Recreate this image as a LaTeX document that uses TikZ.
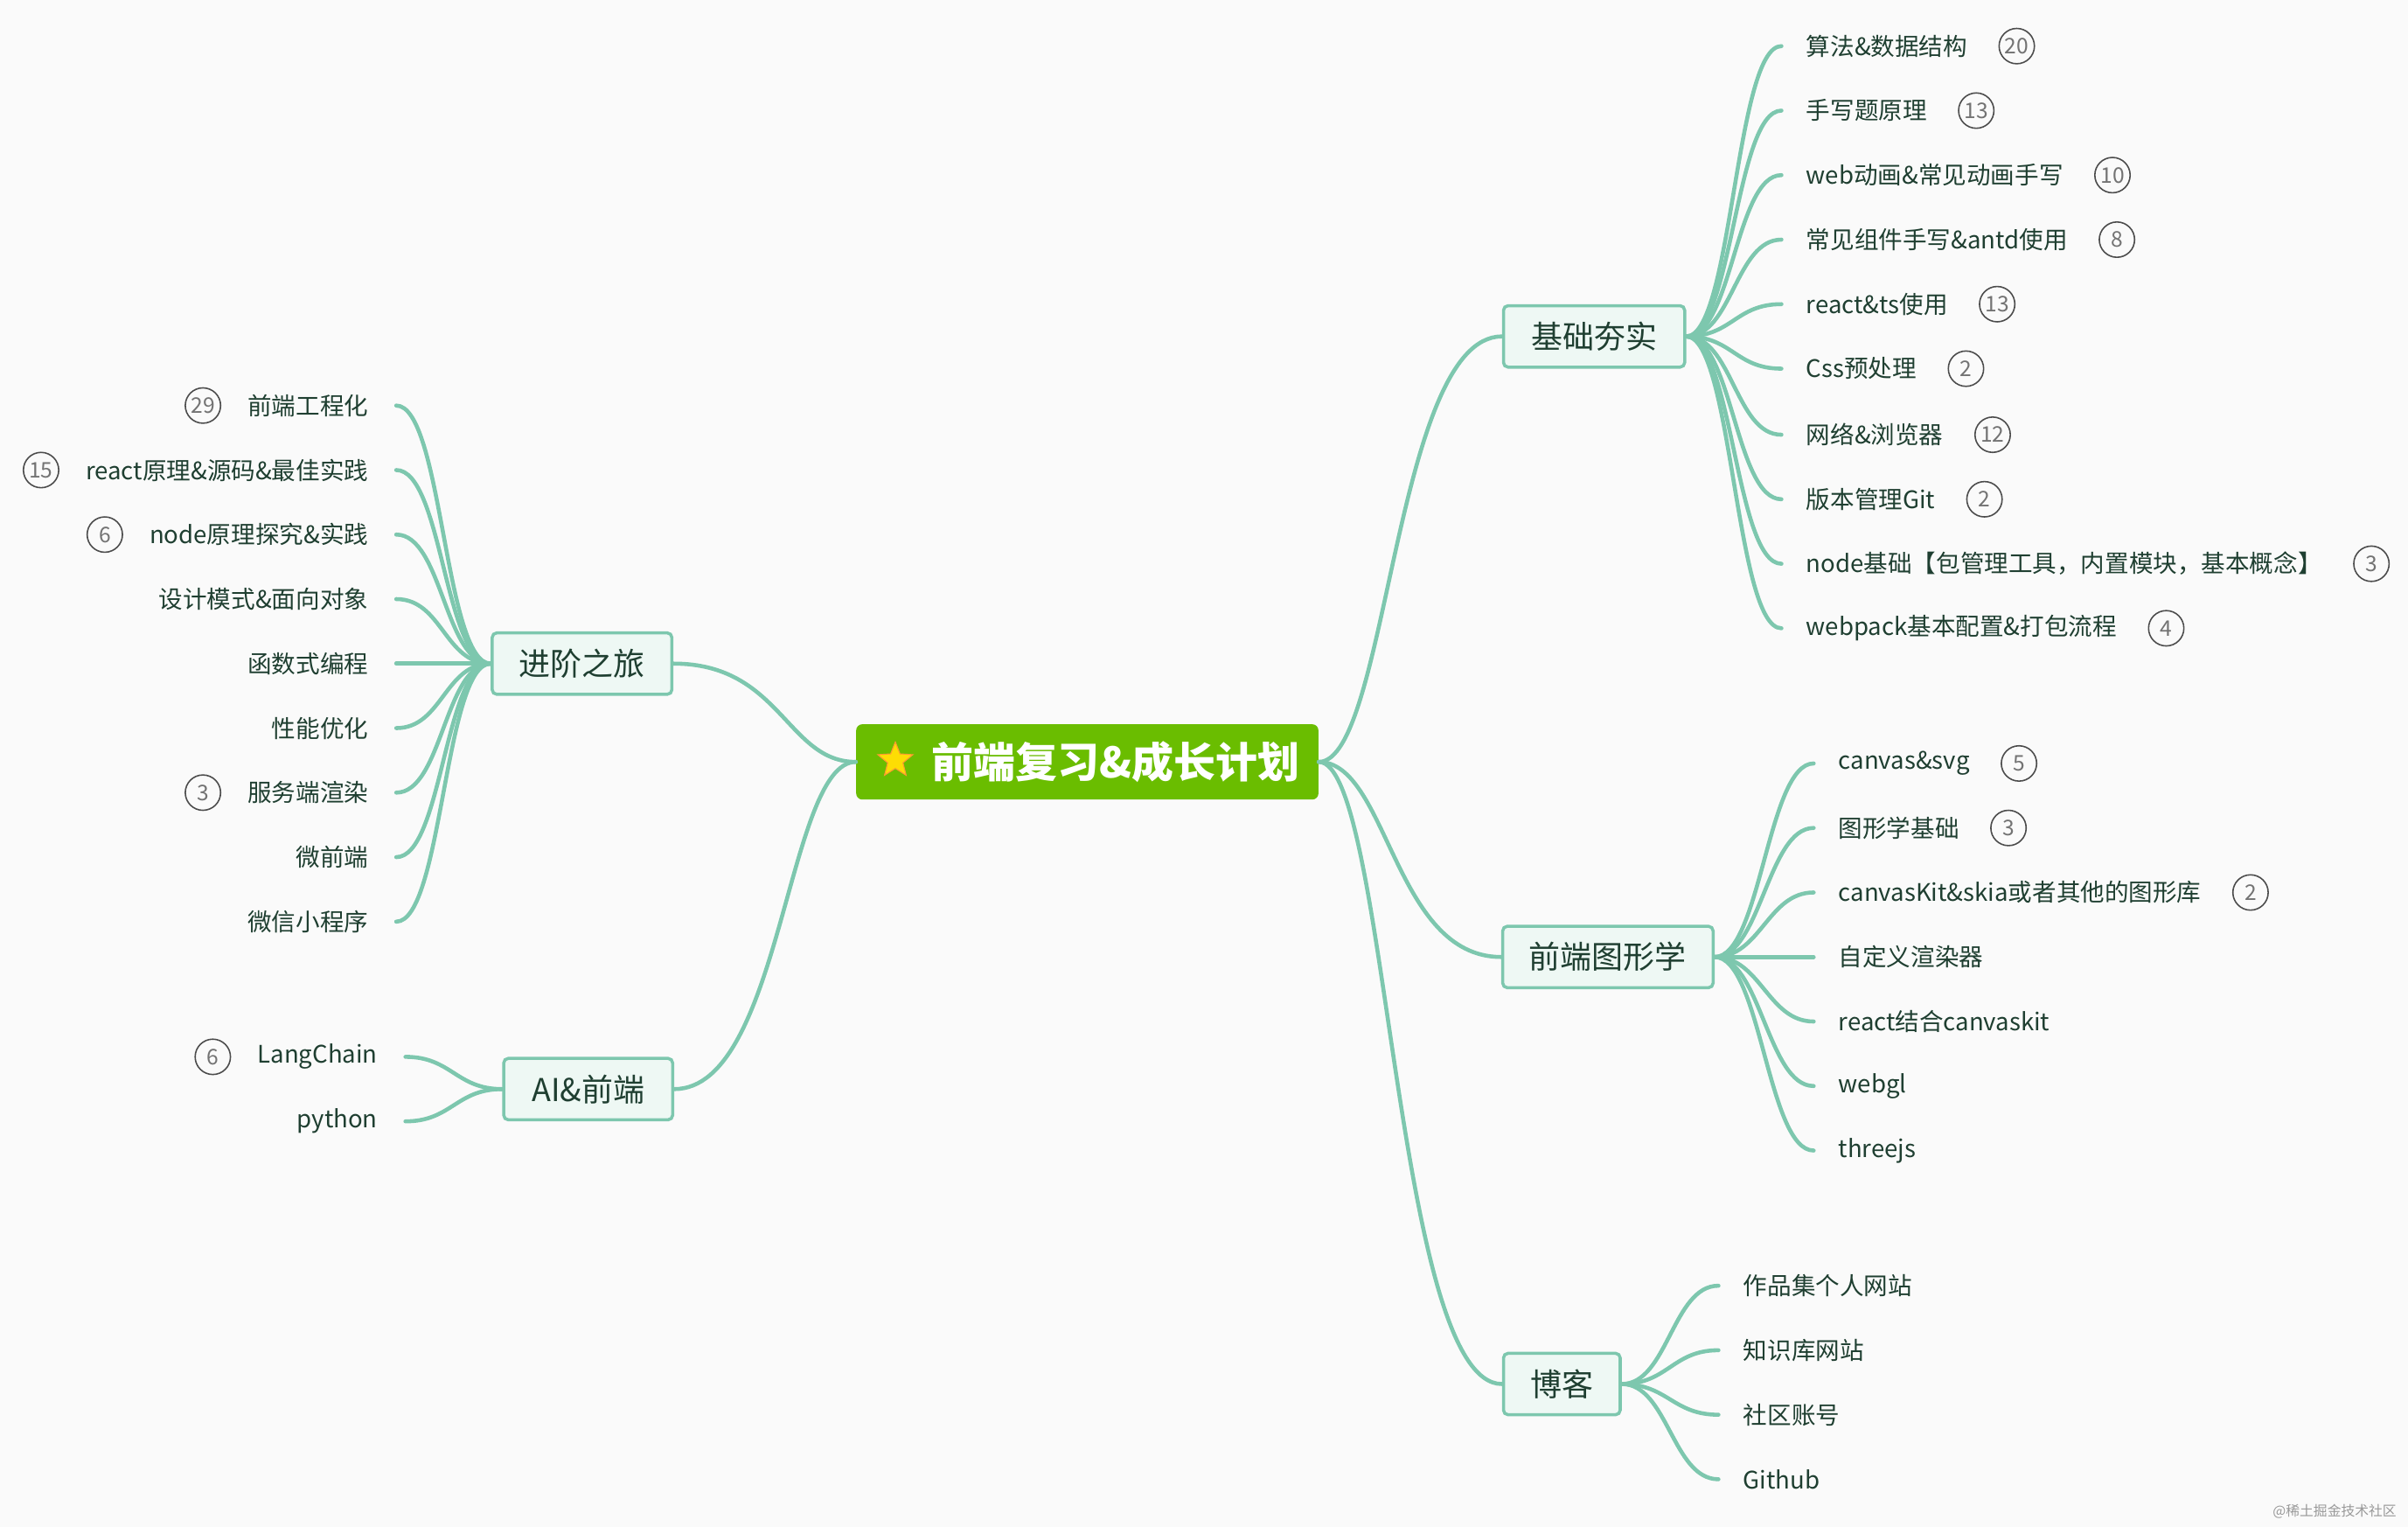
\documentclass[tikz,border=0pt]{standalone}
\usepackage{fontspec}
\setmainfont{Noto Sans CJK SC}
\usetikzlibrary{shapes.geometric}
\definecolor{ln}{HTML}{7DC7AE}
\definecolor{bg}{HTML}{FAFAFA}
\definecolor{mfill}{HTML}{EEF8F4}
\definecolor{txt}{HTML}{1F3F31}
\definecolor{rootg}{HTML}{6ABD00}
\tikzset{
 br/.style={draw=ln,line width=2.6pt,line cap=round},
 mainbox/.style={draw=ln,line width=2pt,fill=mfill,rounded corners=3pt,text=txt,font=\fontsize{20.5}{24}\selectfont,minimum height=40pt,inner xsep=8pt},
 leaf/.style={text=txt,font=\fontsize{15.7}{18}\selectfont,inner sep=0pt},
 badge/.style={circle,draw=black!70,line width=0.9pt,minimum size=23pt,inner sep=0pt,text=black!55,font=\fontsize{14}{15}\selectfont},
}
\begin{document}
\begin{tikzpicture}[x=1pt,y=-1pt]
\fill[bg] (0,0) rectangle (1568,994);
\useasboundingbox (0,0) rectangle (1568,994);
% root
\node[fill=rootg,rounded corners=4pt,minimum width=301pt,minimum height=49pt,inner sep=0pt] (root) at (708,496) {};
\node[star,star points=5,star point ratio=2.3,fill=yellow!80!orange,draw=orange!80,line width=0.6pt,minimum size=24pt,inner sep=0pt] (st) at (583,495) {};
\node[text=white,font=\bfseries\fontsize{27.3}{30}\selectfont,anchor=west] (rt) at (603,496) {前端复习\&成长计划};
% main nodes
\node[mainbox,minimum width=118pt] (jc) at (1038,219) {基础夯实};
\node[mainbox,minimum width=137pt] (tx) at (1047,623) {前端图形学};
\node[mainbox,minimum width=76pt] (bk) at (1017,901) {博客};
\node[mainbox,minimum width=117pt] (jj) at (379,432) {进阶之旅};
\node[mainbox,minimum width=110pt] (ai) at (383,709) {AI\&前端};
\foreach \n in {jc,tx,bk}{
 \draw[br] (root.east) .. controls +(45,0) and +(-70,0) .. (\n.west);}
\foreach \n in {jj,ai}{
 \draw[br] (root.west) .. controls +(-45,0) and +(70,0) .. (\n.east);}
% right leaves
\foreach \i/\y/\t/\b in {1/30/算法\&数据结构/20,2/72/手写题原理/13,3/114/web动画\&常见动画手写/10,4/156/常见组件手写\&antd使用/8,5/198/react\&ts使用/13,6/240/Css预处理/2,7/283/网络\&浏览器/12,8/325/版本管理Git/2,9/367/node基础【包管理工具，内置模块，基本概念】/3,10/409/webpack基本配置\&打包流程/4}{
 \node[leaf,anchor=west] (a\i) at (1176,\y) {\t};
 \node[badge,anchor=west] (ab\i) at ([xshift=20pt]a\i.east) {\b};
 \draw[br] (jc.east) .. controls +(30,0) and +(-30,0) .. ([xshift=-16pt]a\i.west);}
\foreach \i/\y/\t/\b in {1/497/canvas\&svg/5,2/539/图形学基础/3,3/581/canvasKit\&skia或者其他的图形库/2}{
 \node[leaf,anchor=west] (g\i) at (1197,\y) {\t};
 \node[badge,anchor=west] (gb\i) at ([xshift=20pt]g\i.east) {\b};}
\foreach \i/\y/\t in {4/623/自定义渲染器,5/665/react结合canvaskit,6/707/webgl,7/749/threejs}{
 \node[leaf,anchor=west] (g\i) at (1197,\y) {\t};}
\foreach \i in {1,...,7}{
 \draw[br] (tx.east) .. controls +(30,0) and +(-30,0) .. ([xshift=-16pt]g\i.west);}
\foreach \i/\y/\t in {1/837/作品集个人网站,2/879/知识库网站,3/921/社区账号,4/963/Github}{
 \node[leaf,anchor=west] (k\i) at (1135,\y) {\t};
 \draw[br] (bk.east) .. controls +(30,0) and +(-30,0) .. ([xshift=-16pt]k\i.west);}
% left leaves
\foreach \i/\y/\t in {1/264/前端工程化,2/306/react原理\&源码\&最佳实践,3/348/node原理探究\&实践,4/390/设计模式\&面向对象,5/432/函数式编程,6/474/性能优化,7/516/服务端渲染,8/558/微前端,9/600/微信小程序}{
 \node[leaf,anchor=east] (l\i) at (240,\y) {\t};
 \draw[br] (jj.west) .. controls +(-30,0) and +(30,0) .. ([xshift=18pt]l\i.east);}
\node[badge,anchor=east] (lb1) at ([xshift=-17pt]l1.west) {29};
\node[badge,anchor=east] (lb2) at ([xshift=-17pt]l2.west) {15};
\node[badge,anchor=east] (lb3) at ([xshift=-17pt]l3.west) {6};
\node[badge,anchor=east] (lb7) at ([xshift=-17pt]l7.west) {3};
\node[leaf,anchor=east] (m1) at (246,688) {LangChain};
\node[leaf,anchor=east] (m2) at (246,730) {python};
\node[badge,anchor=east] (mb1) at ([xshift=-17pt]m1.west) {6};
\foreach \i in {1,2}{
 \draw[br] (ai.west) .. controls +(-30,0) and +(30,0) .. ([xshift=18pt]m\i.east);}
\node[text=black!40,font=\fontsize{9}{10}\selectfont,anchor=east] (wm) at (1564,984) {@稀土掘金技术社区};
\end{tikzpicture}
\end{document}
